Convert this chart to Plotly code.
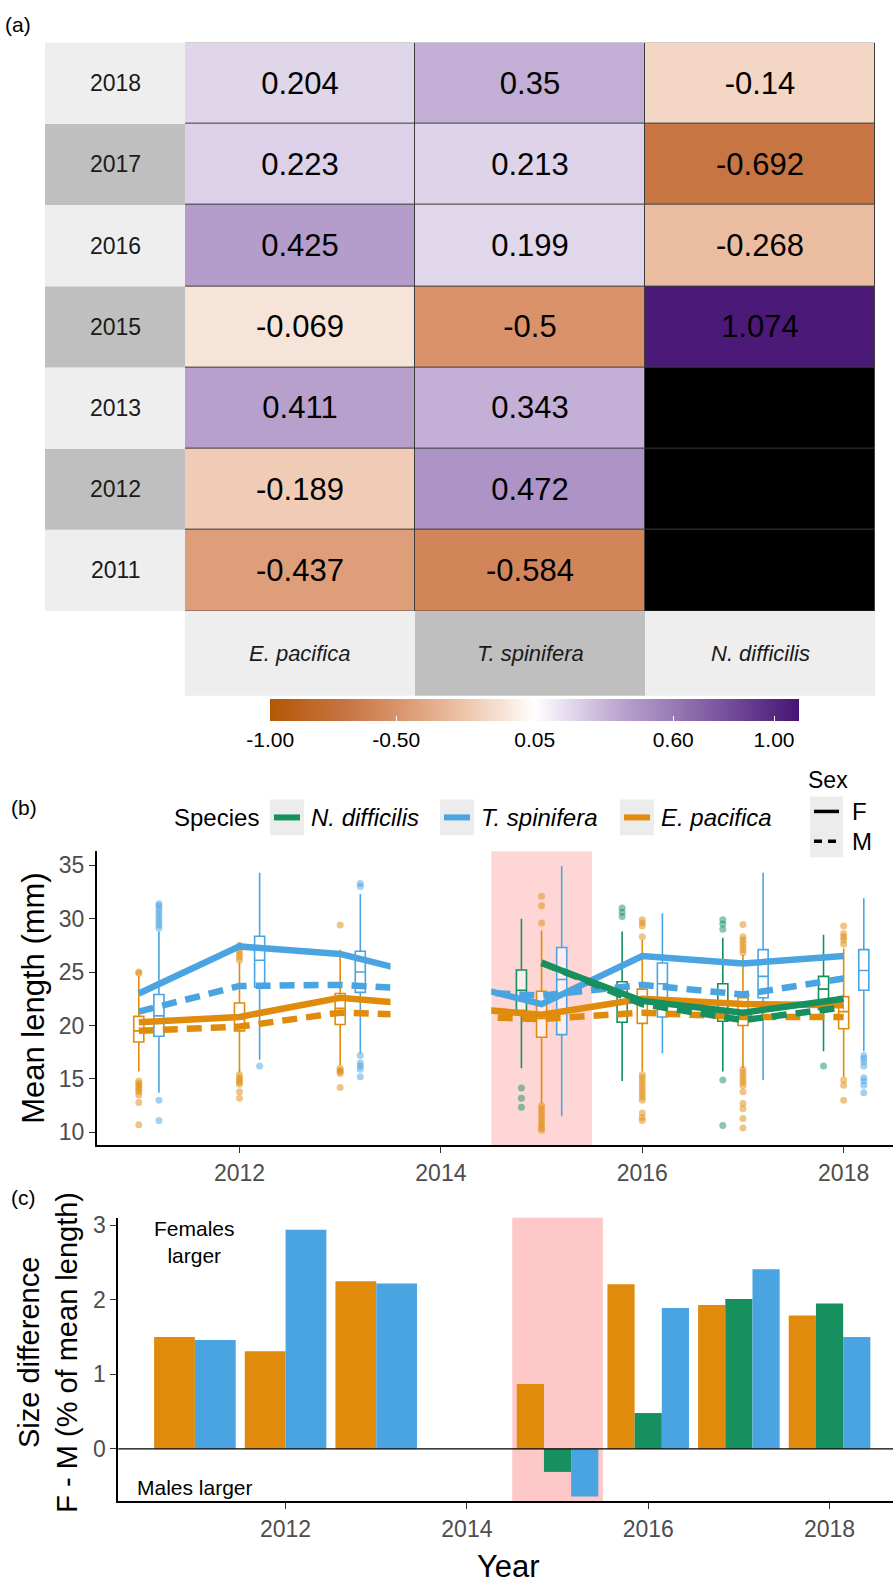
import plotly.graph_objects as go

W, H = 893, 1583
def PX(p): return p / W
def PY(p): return 1 - p / H

FONT = "Liberation Sans, Arial, sans-serif"
C_EP = "#e08b0b"
C_TS = "#4aa4e2"
C_ND = "#16905f"

# ---------------- Panel (a) data ----------------
hm_species = ["E. pacifica", "T. spinifera", "N. difficilis"]
hm_years = ["2011", "2012", "2013", "2015", "2016", "2017", "2018"]
hm_ep = [-0.437, -0.189, 0.411, -0.069, 0.425, 0.223, 0.204]
hm_ts = [-0.584, 0.472, 0.343, -0.5, 0.199, 0.213, 0.35]
hm_nd = [None, None, None, 1.074, -0.268, -0.692, -0.14]
cb_ticks = [-1.0, -0.5, 0.05, 0.6, 1.0]
cb_ticktext = ["-1.00", "-0.50", "0.05", "0.60", "1.00"]
cb_min, cb_max = -1.0, 1.1

# ---------------- Panel (b) data ----------------
years_b = [2011, 2012, 2013, 2015, 2016, 2017, 2018]
ep_f = [20.3, 20.8, 22.6, 21.0, 22.5, 22.0, 21.9]
ep_m = [19.5, 19.9, 21.2, 20.6, 21.2, 20.8, 20.8]
ts_f = [23.0, 27.4, 26.7, 22.0, 26.5, 25.8, 26.5]
ts_m = [21.3, 23.7, 23.8, 22.8, 23.8, 22.9, 24.4]
years_nd = [2015, 2016, 2017, 2018]
nd_f = [25.85, 22.3, 21.2, 22.5]
nd_m = [25.9, 22.0, 20.5, 21.7]

# box statistics: q1, median, q3, lower whisker, upper whisker, outliers
ep_q1 = [18.45, 19.5, 20.1, 18.9, 20.2, 20.0, 19.7]
ep_med = [19.5, 20.6, 21.6, 20.65, 22.1, 21.3, 21.3]
ep_q3 = [20.85, 22.1, 23.0, 23.2, 23.4, 22.6, 22.7]
ep_lo = [15.7, 15.6, 16.3, 12.7, 15.7, 16.0, 15.2]
ep_hi = [24.6, 25.9, 27.1, 28.9, 28.0, 26.6, 27.2]
ep_out = [
    [24.9, 25.0, 14.8, 14.6, 14.4, 14.2, 14.0, 13.8, 13.5, 12.8, 10.7],
    [26.1, 26.4, 26.7, 27.0, 27.3, 27.5, 15.4, 15.1, 14.9, 14.7, 14.5, 13.8, 13.2],
    [29.4, 16.0, 15.8, 15.7, 15.5, 14.2],
    [29.6, 31.2, 32.1, 12.5, 12.2, 11.9, 11.6, 11.3, 11.0, 10.7, 10.4, 10.2],
    [28.3, 29.3, 29.6, 29.9, 15.4, 15.1, 14.8, 14.5, 14.2, 13.9, 13.6, 13.3, 13.0, 11.8, 11.4, 11.1],
    [29.45, 28.3, 28.0, 27.7, 27.4, 27.1, 26.8, 15.9, 15.6, 15.3, 15.0, 14.7, 14.4, 13.8, 12.7, 12.2, 11.3, 10.4],
    [27.6, 28.0, 28.3, 28.6, 29.3, 14.9, 14.4, 13.0],
]
ts_q1 = [19.0, 23.6, 23.1, 19.15, 20.8, 22.6, 23.3]
ts_med = [20.9, 26.1, 25.0, 24.3, 23.9, 24.6, 25.15]
ts_q3 = [22.9, 28.35, 26.95, 27.3, 25.85, 27.1, 27.1]
ts_lo = [13.7, 16.8, 17.4, 11.5, 17.4, 14.9, 17.6]
ts_hi = [28.8, 34.3, 32.3, 34.9, 30.5, 34.3, 31.9]
ts_out = [
    [29.1, 29.4, 29.7, 30.0, 30.3, 30.6, 30.9, 31.2, 31.4, 13.0, 11.1],
    [16.2],
    [33.0, 33.3, 17.2, 16.5, 16.2, 15.9, 15.2],
    [],
    [],
    [],
    [17.2, 16.9, 16.6, 16.2, 15.1, 14.8, 14.4, 13.7],
]
nd_q1 = [21.4, 20.3, 20.4, 21.5]
nd_med = [23.3, 22.3, 22.1, 23.4]
nd_q3 = [25.2, 24.1, 23.9, 24.6]
nd_lo = [16.0, 14.8, 15.7, 17.6]
nd_hi = [30.0, 28.8, 28.2, 28.5]
nd_out = [
    [14.15, 13.2, 12.35],
    [30.2, 30.6, 31.0],
    [29.0, 29.5, 29.9, 14.9, 10.65],
    [16.2],
]
legend_species = ["N. difficilis", "T. spinifera", "E. pacifica"]
legend_sex = ["F", "M"]

# ---------------- Panel (c) data ----------------
years_c = [2011, 2012, 2013, 2015, 2016, 2017, 2018]
diff_ep = [1.50, 1.31, 2.25, 0.87, 2.21, 1.93, 1.79]
diff_nd = [None, None, None, -0.31, 0.48, 2.01, 1.95]
diff_ts = [1.46, 2.94, 2.22, -0.64, 1.89, 2.41, 1.50]

fig = go.Figure()
shapes = []
annots = []

def txt_annot(text, x, y, size, color="black", xanchor="center", xref="paper", yref="paper", angle=0):
    return dict(text=text, x=x, y=y, xref=xref, yref=yref, xanchor=xanchor, yanchor="middle",
                showarrow=False, textangle=angle, font=dict(size=size, color=color, family=FONT))

# ---------------- Panel (a) ----------------
z = [[hm_ep[i], hm_ts[i], hm_nd[i]] for i in range(len(hm_years))]
txt = [["" if v is None else str(v) for v in row] for row in z]
z_na = [[1 if v is None else None for v in row] for row in z]
cscale = [
    [0.0, "#b35806"], [0.1467, "#c87544"], [0.2381, "#d9926a"], [0.3486, "#ebbda0"],
    [0.4433, "#f7e4d8"], [0.5, "#ffffff"], [0.5710, "#e1d7eb"], [0.6395, "#c4b0d6"],
    [0.6786, "#b49dca"], [0.7010, "#ae94c6"], [0.9876, "#4b1a78"], [1.0, "#45137a"],
]
CB_L, CB_R, CB_T, CB_B = 270.5, 799.0, 696.0, 718.0
fig.add_trace(go.Heatmap(
    z=z, x=[0, 1, 2], y=list(range(len(hm_years))), text=txt,
    texttemplate="%{text}", textfont=dict(size=31, color="black", family=FONT),
    colorscale=cscale, zmin=cb_min, zmax=cb_max, xgap=1, ygap=1, hoverinfo="skip",
    xaxis="x", yaxis="y",
    colorbar=dict(orientation="h", x=PX((CB_L + CB_R) / 2), xanchor="center", len=(CB_R - CB_L) / W,
                  lenmode="fraction", y=PY(CB_T), yanchor="top", thickness=CB_B - CB_T,
                  outlinewidth=0, tickvals=cb_ticks, ticktext=cb_ticktext,
                  ticks="inside", tickcolor="white", ticklen=5, tickwidth=1,
                  tickfont=dict(size=21, color="black", family=FONT), xpad=0, ypad=0),
))
fig.add_trace(go.Heatmap(
    z=z_na, x=[0, 1, 2], y=list(range(len(hm_years))),
    colorscale=[[0, "black"], [1, "black"]], showscale=False, xgap=1, ygap=1,
    hoverinfo="skip", xaxis="x", yaxis="y",
))
# white tick marks on the colour bar (top and bottom edges), placed from the bar's own scale
for v in cb_ticks:
    xp = CB_L + (v - cb_min) / (cb_max - cb_min) * (CB_R - CB_L)
    for ya, yb in ((CB_T, CB_T + 4), (CB_B - 4, CB_B)):
        shapes.append(dict(type="line", xref="paper", yref="paper", x0=PX(xp), x1=PX(xp),
                           y0=PY(ya), y1=PY(yb), line=dict(color="white", width=1.2), layer="above"))

shapes.append(dict(type="rect", xref="x", yref="y", x0=-0.5, x1=2.5, y0=-0.5, y1=len(hm_years) - 0.5,
                   fillcolor="#3c3c3c", line=dict(width=0), layer="below"))
for i, yr in enumerate(hm_years):
    dark = (len(hm_years) - 1 - i) % 2 == 1
    shapes.append(dict(type="rect", xref="paper", yref="y", x0=PX(45), x1=PX(185),
                       y0=i - 0.5, y1=i + 0.5, fillcolor="#bfbfbf" if dark else "#eeeeee",
                       line=dict(width=0), layer="below"))
    annots.append(txt_annot(yr, PX(115), i, 23, "#1a1a1a", yref="y"))
for j, sp in enumerate(hm_species):
    shapes.append(dict(type="rect", xref="x", yref="paper", x0=j - 0.5, x1=j + 0.5,
                       y0=PY(693), y1=PY(608), fillcolor="#bfbfbf" if j == 1 else "#eeeeee",
                       line=dict(width=0), layer="below"))
    annots.append(txt_annot("<i>" + sp + "</i>", j, PY(651), 22, "#1a1a1a", xref="x"))

# ---------------- Panel (b) ----------------
off = {"nd": -0.2, "ep": 0.0, "ts": 0.2}
box_sets = [
    ("nd", years_nd, nd_q1, nd_med, nd_q3, nd_lo, nd_hi, nd_out, C_ND),
    ("ep", years_b, ep_q1, ep_med, ep_q3, ep_lo, ep_hi, ep_out, C_EP),
    ("ts", years_b, ts_q1, ts_med, ts_q3, ts_lo, ts_hi, ts_out, C_TS),
]
for key, yrs, q1, med, q3, lo, hi, outs, col in box_sets:
    xs = [y + off[key] for y in yrs]
    fig.add_trace(go.Box(
        x=xs, q1=q1, median=med, q3=q3, lowerfence=lo, upperfence=hi,
        width=0.1, whiskerwidth=0, boxpoints=False, line=dict(color=col, width=1.6),
        fillcolor="rgba(255,255,255,0.55)", showlegend=False, hoverinfo="skip",
        xaxis="x2", yaxis="y2"))
    ox, oy = [], []
    for xv, ol in zip(xs, outs):
        for v in ol:
            ox.append(xv)
            oy.append(v)
    fig.add_trace(go.Scatter(
        x=ox, y=oy, mode="markers", marker=dict(color=col, size=7, opacity=0.5),
        showlegend=False, hoverinfo="skip", xaxis="x2", yaxis="y2"))

line_sets = [
    (years_b, ts_f, ts_m, C_TS),
    (years_b, ep_f, ep_m, C_EP),
    (years_nd, nd_f, nd_m, C_ND),
]
for yrs, f, m, col in line_sets:
    fig.add_trace(go.Scatter(
        x=yrs, y=m, mode="lines", line=dict(color=col, width=6.5, dash="15px,9px"),
        showlegend=False, hoverinfo="skip", xaxis="x2", yaxis="y2"))
    fig.add_trace(go.Scatter(
        x=yrs, y=f, mode="lines", line=dict(color=col, width=6.5),
        showlegend=False, hoverinfo="skip", xaxis="x2", yaxis="y2"))

shapes.append(dict(type="rect", xref="x2", yref="y2 domain", x0=2014.5, x1=2015.5, y0=0, y1=1,
                   fillcolor="#ffd6d6", line=dict(width=0), layer="below"))
shapes.append(dict(type="rect", xref="x2", yref="y2 domain", x0=2013.5, x1=2014.5, y0=0.012, y1=1,
                   fillcolor="white", line=dict(width=0), layer="above"))

# legend (Species)
annots.append(txt_annot("Species", PX(172), PY(815), 24, xanchor="left"))
key_x = [287, 457, 637]
for name, col, kx in zip(legend_species, (C_ND, C_TS, C_EP), key_x):
    shapes.append(dict(type="rect", xref="paper", yref="paper", x0=PX(kx - 17), x1=PX(kx + 17),
                       y0=PY(833), y1=PY(797), fillcolor="#ececec", line=dict(width=0)))
    shapes.append(dict(type="line", xref="paper", yref="paper", x0=PX(kx - 13), x1=PX(kx + 13),
                       y0=PY(815), y1=PY(815), line=dict(color=col, width=6)))
    annots.append(txt_annot("<i>" + name + "</i>", PX(kx + 22), PY(815), 24, xanchor="left"))
# legend (Sex)
annots.append(txt_annot("Sex", PX(806), PY(777), 23, xanchor="left"))
shapes.append(dict(type="rect", xref="paper", yref="paper", x0=PX(810), x1=PX(843),
                   y0=PY(855), y1=PY(794), fillcolor="#ececec", line=dict(width=0)))
for lab, yy, dash in zip(legend_sex, (809, 839), ("solid", "8px,6px")):
    shapes.append(dict(type="line", xref="paper", yref="paper", x0=PX(814), x1=PX(839),
                       y0=PY(yy), y1=PY(yy), line=dict(color="black", width=3.5, dash=dash)))
    annots.append(txt_annot(lab, PX(850), PY(yy), 24, xanchor="left"))

# ---------------- Panel (c) ----------------
def dodge(i):
    present = [d[i] is not None for d in (diff_ep, diff_nd, diff_ts)]
    n = sum(present)
    w = 0.9 / n
    pos, k = [], 0
    for p in present:
        if p:
            pos.append(years_c[i] - 0.45 + w * (k + 0.5))
            k += 1
        else:
            pos.append(None)
    return pos, w

bar_x = {0: [], 1: [], 2: []}
bar_y = {0: [], 1: [], 2: []}
bar_w = {0: [], 1: [], 2: []}
for i in range(len(years_c)):
    pos, w = dodge(i)
    for s, d in enumerate((diff_ep, diff_nd, diff_ts)):
        if d[i] is not None:
            bar_x[s].append(pos[s]); bar_y[s].append(d[i]); bar_w[s].append(w)
for s, col in enumerate((C_EP, C_ND, C_TS)):
    fig.add_trace(go.Bar(x=bar_x[s], y=bar_y[s], width=bar_w[s], marker=dict(color=col, line=dict(width=0)),
                         showlegend=False, hoverinfo="skip", xaxis="x3", yaxis="y3"))

shapes.append(dict(type="rect", xref="x3", yref="y3 domain", x0=2014.5, x1=2015.5, y0=0, y1=1,
                   fillcolor="#ffc8c8", line=dict(width=0), layer="below"))
shapes.append(dict(type="line", xref="x3 domain", yref="y3", x0=0, x1=1, y0=0, y1=0,
                   line=dict(color="black", width=1.2), layer="above"))

annots += [
    txt_annot("Females<br>larger", 2011, 2.78, 21, xref="x3", yref="y3"),
    txt_annot("Males larger", 2011, -0.52, 21, xref="x3", yref="y3"),
    txt_annot("(a)", PX(3), PY(20), 21, xanchor="left"),
    txt_annot("(b)", PX(9), PY(805), 21, xanchor="left"),
    txt_annot("(c)", PX(9), PY(1196), 21, xanchor="left"),
    txt_annot("Mean length (mm)", PX(34), PY(996), 31, angle=-90),
    txt_annot("Size difference<br>F - M (% of mean length)", PX(48), PY(1352), 29, angle=-90),
    txt_annot("Year", PX(508), PY(1566), 31),
]

ax_common = dict(showline=True, linecolor="black", linewidth=2, ticks="outside", ticklen=6,
                 tickwidth=1.3, tickcolor="#333333", showgrid=False, zeroline=False,
                 tickfont=dict(size=23, color="#4d4d4d", family=FONT))

fig.update_layout(
    width=W, height=H, margin=dict(l=0, r=0, t=0, b=0),
    paper_bgcolor="white", plot_bgcolor="white", showlegend=False,
    font=dict(family=FONT, color="black"),
    xaxis=dict(domain=[PX(185), PX(875)], range=[-0.5, 2.5], visible=False, anchor="y"),
    yaxis=dict(domain=[PY(608), PY(37.7)], range=[-0.5, len(hm_years) - 0.5], visible=False, anchor="x"),
    xaxis2=dict(domain=[PX(97), 1.0], range=[2010.585, 2018.49], tickvals=[2012, 2014, 2016, 2018],
                anchor="y2", **ax_common),
    yaxis2=dict(domain=[PY(1144), PY(849)], range=[8.78, 36.3], tickvals=[10, 15, 20, 25, 30, 35],
                anchor="x2", **ax_common),
    xaxis3=dict(domain=[PX(118.3), 1.0], range=[2010.155, 2018.70], tickvals=[2012, 2014, 2016, 2018],
                anchor="y3", **ax_common),
    yaxis3=dict(domain=[PY(1500.7), PY(1216.7)], range=[-0.70, 3.10], tickvals=[0, 1, 2, 3],
                anchor="x3", **ax_common),
    boxmode="overlay", barmode="overlay",
    shapes=shapes, annotations=annots,
)

fig.write_html("out.html")
